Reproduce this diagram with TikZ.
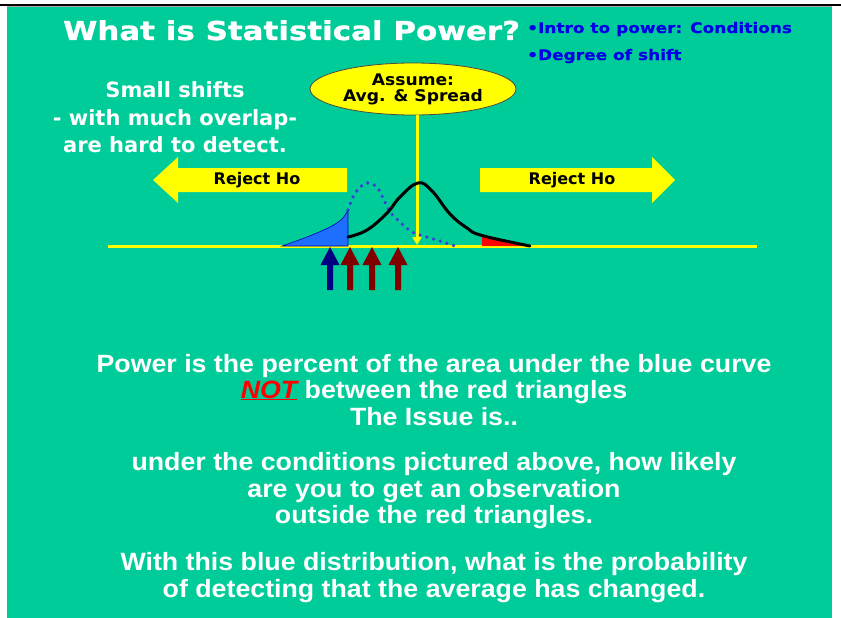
\documentclass[tikz,border=0pt]{standalone}
\usepackage{fontspec}
\setmainfont{Liberation Sans}
\newfontfamily\widef{DejaVu Sans}
\newfontfamily\titlef[FakeStretch=1.19,FakeBold=1.2]{DejaVu Sans}
\newfontfamily\bluef[FakeStretch=1.17,FakeBold=0.8]{DejaVu Sans}
\newfontfamily\ellf[FakeStretch=1.07]{DejaVu Sans}
\newfontfamily\bodyf[FakeStretch=1.07]{Liberation Sans}
\usetikzlibrary{shapes.geometric,arrows.meta}
\definecolor{bgc}{RGB}{0,204,153}
\definecolor{yelc}{RGB}{255,255,0}
\definecolor{navyc}{RGB}{0,0,128}
\definecolor{maroonc}{RGB}{128,0,0}
\definecolor{fillblue}{RGB}{30,110,255}
\definecolor{dotblue}{RGB}{60,60,220}
\definecolor{txtblue}{RGB}{0,0,230}
\tikzset{
  titletxt/.style={anchor=base west, inner sep=0, text=white, font=\titlef\bfseries\fontsize{26}{28}\selectfont},
  bluetxt/.style={anchor=base west, inner sep=0, text=txtblue, font=\bluef\bfseries\fontsize{14.5}{16}\selectfont},
  sidetxt/.style={anchor=base, inner sep=0, text=white, font=\widef\bfseries\fontsize{21}{24}\selectfont},
  bodytxt/.style={anchor=base, inner sep=0, text=white, font=\bodyf\bfseries\fontsize{25}{27}\selectfont},
  rejtxt/.style={inner sep=0, text=black, font=\widef\bfseries\fontsize{16}{18}\selectfont},
  bigarrow/.style={fill=yelc},
}
\begin{document}
\begin{tikzpicture}[x=1pt,y=-1pt]
\useasboundingbox (0,0) rectangle (841,618);
\fill[bgc] (7,6) rectangle (832,618);
\draw[black, line width=1.5] (0,5) -- (841,5);
\draw[gray!70, line width=0.6] (7,6) -- (832,6);

% titles
\node[titletxt] (title) at (63,40) {What is Statistical Power?};
\node[bluetxt] (b1) at (527,33) {•Intro to power: Conditions};
\node[bluetxt] (b2) at (527,60) {•Degree of shift};

\node[sidetxt] (s1) at (175,98) {Small shifts};
\node[sidetxt] (s2) at (175,125) {- with much overlap-};
\node[sidetxt] (s3) at (175,152) {are hard to detect.};

% axis
\coordinate (axL) at (108,246);
\coordinate (axR) at (757,246);
\draw[yelc, line width=3] (axL) -- (axR);

% big arrows
\fill[bigarrow] (347,168) -- (178,168) -- (178,157) -- (153,180) -- (178,203) -- (178,192) -- (347,192) -- cycle;
\fill[bigarrow] (480,168) -- (652,168) -- (652,157) -- (675,180) -- (652,203) -- (652,192) -- (480,192) -- cycle;
\node[rejtxt] (rl) at (257,180) {Reject Ho};
\node[rejtxt] (rr) at (572,180) {Reject Ho};

% ellipse and vertical arrow
\node[ellipse, draw=black!80!yellow, line width=0.8, fill=yelc, minimum width=206, minimum height=52, inner sep=0,
      align=center, font=\ellf\bfseries\fontsize{16}{16}\selectfont] (assume) at (413,89) {Assume:\\Avg. \& Spread};
\coordinate (vtop) at (417,115);
\coordinate (vbot) at (417,245);
\draw[yelc, line width=3, -{Triangle[width=9,length=8]}] (vtop) -- (vbot);

% blue fill
\fill[fillblue, draw=blue!70!black, line width=0.6] plot[smooth] coordinates {(282,246) (307,237) (330,227) (342,219) (348,210)} -- (348,246) -- cycle;
% red fill
\fill[red] (482,246) -- (482,235.5) -- (490,238) -- (510,242.5) -- (530,246) -- cycle;
% dotted blue curve
\draw[dotblue, line width=3.6, line cap=round, dash pattern=on 0pt off 7pt]
  plot[smooth] coordinates {(348,210) (353,197) (360,187) (368,183) (377,187) (383,198) (390,212) (400,222) (412,232) (427,237) (443,242) (455,246)};
% black curve
\draw[black, line width=3, line cap=round]
  plot[smooth, tension=0.7] coordinates {(348,237) (367,230) (387,213) (400,197) (418,183) (432,191) (450,214) (467,228) (482,235.5) (530,246)};

% up arrows
\foreach \x/\c in {330/navyc, 350/maroonc, 372/maroonc, 398/maroonc}{
  \fill[\c] (\x-3,290) -- (\x-3,265) -- (\x-9.5,265) -- (\x,247) -- (\x+9.5,265) -- (\x+3,265) -- (\x+3,290) -- cycle;
}

% body text
\node[bodytxt] (t1) at (434,372) {Power is the percent of the area under the blue curve};
\node[bodytxt] (t2) at (434,398) {\textcolor{red}{\textit{\underline{NOT}}} between the red triangles};
\node[bodytxt] (t3) at (434,425) {The Issue is..};
\node[bodytxt] (t4) at (434,470) {under the conditions pictured above, how likely};
\node[bodytxt] (t5) at (434,497) {are you to get an observation};
\node[bodytxt] (t6) at (434,523) {outside the red triangles.};
\node[bodytxt] (t7) at (434,570) {With this blue distribution, what is the probability};
\node[bodytxt] (t8) at (434,597) {of detecting that the average has changed.};
\end{tikzpicture}
\end{document}
